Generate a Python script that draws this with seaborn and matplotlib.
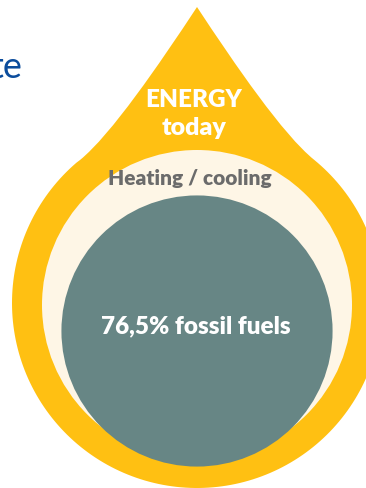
import numpy as np
import matplotlib
matplotlib.use("Agg")
import matplotlib.pyplot as plt
from matplotlib.path import Path
from matplotlib.patches import PathPatch, Circle
import seaborn as sns

# Labels and the fossil share shown inside the drop
title_lines = ["ENERGY", "today"]
sector_label = "Heating / cooling"
fossil_share = 76.5          # percent of heating / cooling energy
fossil_label = "76,5% fossil fuels"
heading_tail = "te"

sns.set_theme(style="white")
plt.rcParams["font.family"] = ["Lato", "DejaVu Sans"]

GOLD = "#FFC012"
CREAM = "#FEF6E6"
TEAL = "#678685"
GREY = "#6B6B6B"
BLUE = "#0B4C9C"

W, H = 366, 488
fig = plt.figure(figsize=(W / 100, H / 100), dpi=100)
ax = fig.add_axes([0, 0, 1, 1])
ax.set_xlim(0, W)
ax.set_ylim(H, 0)
ax.axis("off")

# --- drop outline: pointed top, round belly ---
cx, cy, R = 197.0, 303.0, 185.0
tip = np.array([cx, 7.0])
left_join = np.array([80.0, 160.0])
right_join = np.array([2 * cx - 80.0, 160.0])

def tangent_at(p):
    v = p - np.array([cx, cy])
    t = np.array([-v[1], v[0]])
    t = t / np.linalg.norm(t)
    return -t if t[1] > 0 else t   # always the upward-pointing tangent

tip_dir_l = np.array([-0.55, 0.835])
tip_dir_r = np.array([0.55, 0.835])
t_left = tangent_at(left_join)
t_right = tangent_at(right_join)

verts = [tuple(tip)]
codes = [Path.MOVETO]
verts += [tuple(tip + 70 * tip_dir_l), tuple(left_join + 40 * t_left), tuple(left_join)]
codes += [Path.CURVE4] * 3

a0 = np.arctan2(left_join[1] - cy, left_join[0] - cx)
a1 = np.arctan2(right_join[1] - cy, right_join[0] - cx)
if a0 < 0:
    a0 += 2 * np.pi
for a in np.linspace(a0, a1, 200)[1:]:
    verts.append((cx + R * np.cos(a), cy + R * np.sin(a)))
    codes.append(Path.LINETO)

verts += [tuple(right_join + 40 * t_right), tuple(tip + 70 * tip_dir_r), tuple(tip)]
codes += [Path.CURVE4] * 3
verts.append(tuple(tip))
codes.append(Path.CLOSEPOLY)

ax.add_patch(PathPatch(Path(verts, codes), facecolor=GOLD, edgecolor="none"))

# --- sector circle and fossil share circle (area proportional to share) ---
sector_r = 155.0
sector_c = (cx, 305.0)
ax.add_patch(Circle(sector_c, sector_r, facecolor=CREAM, edgecolor="none"))

fossil_r = sector_r * np.sqrt(fossil_share / 100.0)
fossil_c = (cx, 331.0)
ax.add_patch(Circle(fossil_c, fossil_r, facecolor=TEAL, edgecolor="none"))

# --- labels ---
ax.text(194, 100, title_lines[0], color="white", fontsize=17.5, fontweight="heavy",
        ha="center", va="center")
ax.text(194.5, 128, title_lines[1], color="white", fontsize=18, fontweight="heavy",
        ha="center", va="center")
ax.text(189.5, 178, sector_label, color=GREY, fontsize=15, fontweight="heavy",
        ha="center", va="center")
ax.text(196, 326, fossil_label, color="white", fontsize=17.5, fontweight="heavy",
        ha="center", va="center")
ax.text(22, 78, heading_tail, color=BLUE, fontsize=26, ha="right", va="baseline")

fig.savefig("out.png", dpi=100)
